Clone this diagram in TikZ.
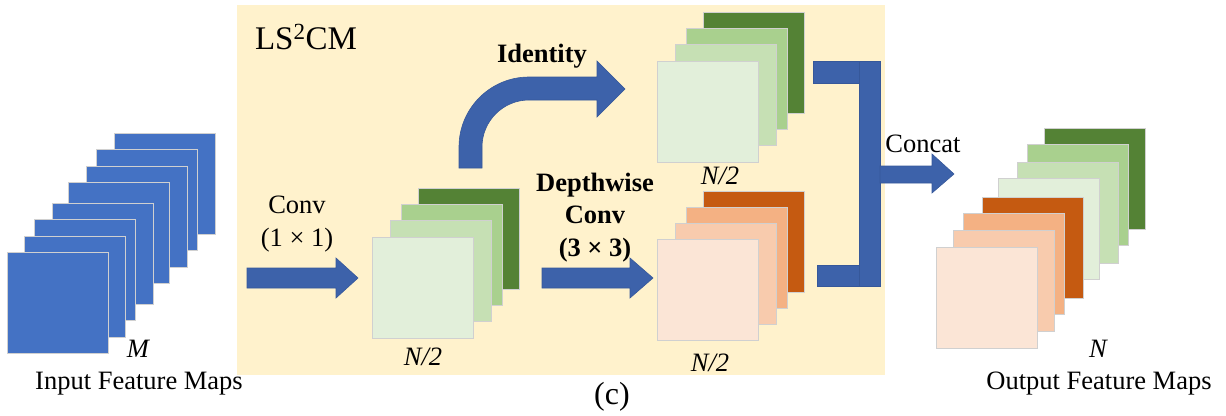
\documentclass[tikz,border=0pt]{standalone}
\usepackage{fontspec}
\setmainfont{Liberation Serif}
\definecolor{bgY}{HTML}{FFF2CC}
\definecolor{mapBlue}{HTML}{4472C4}
\definecolor{arrBlue}{HTML}{3D62AA}
\definecolor{arrEdge}{HTML}{36589A}
\definecolor{gA}{HTML}{E2EFDA}
\definecolor{gB}{HTML}{C6E0B4}
\definecolor{gC}{HTML}{A9D08E}
\definecolor{gD}{HTML}{548235}
\definecolor{oA}{HTML}{FBE5D6}
\definecolor{oB}{HTML}{F8CBAD}
\definecolor{oC}{HTML}{F4B183}
\definecolor{oD}{HTML}{C55A11}
\definecolor{mapEdge}{HTML}{D0D0D0}
\tikzset{
  fmap/.style={draw=mapEdge, line width=1pt, minimum width=101pt, minimum height=101pt, inner sep=0pt, anchor=north west},
  txt/.style={font=\fontsize{26.5}{31}\selectfont, inner sep=0pt, anchor=base},
  btxt/.style={txt, font=\fontsize{26.5}{31}\selectfont\bfseries},
  itxt/.style={txt, font=\fontsize{26.5}{31}\selectfont\itshape},
  barrow/.style={fill=arrBlue, draw=arrEdge, line width=0.6pt},
}
\begin{document}
\begin{tikzpicture}[x=1pt,y=-1pt]
\useasboundingbox (0,0) rectangle (1226,415);
% background module
\fill[bgY] (237,5) rectangle (885,375);
\node[txt, font=\fontsize{33}{38}\selectfont] (title) at (306,49) {LS\textsuperscript{2}CM};

% input feature maps
\node[fmap, fill=mapBlue] (in8) at (114,133) {};
\node[fmap, fill=mapBlue] (in7) at (96,149) {};
\node[fmap, fill=mapBlue] (in6) at (86,166) {};
\node[fmap, fill=mapBlue] (in5) at (68,182) {};
\node[fmap, fill=mapBlue] (in4) at (52,203) {};
\node[fmap, fill=mapBlue] (in3) at (34,219) {};
\node[fmap, fill=mapBlue] (in2) at (24,236) {};
\node[fmap, fill=mapBlue] (in1) at (7,252) {};
\node[itxt] (M) at (138,357) {M};
\node[txt] (inlbl) at (139,389) {Input Feature Maps};

% conv 1x1 arrow
\path[barrow] (247,268) -- (336,268) -- (336,258) -- (358,278) -- (336,298) -- (336,288) -- (247,288) -- cycle;
\node[txt] (conv1) at (297,213) {Conv};
\node[txt] (conv1b) at (297,246) {(1 × 1)};

% middle stack
\node[fmap, fill=gD] (m4) at (418,188) {};
\node[fmap, fill=gC] (m3) at (401,204) {};
\node[fmap, fill=gB] (m2) at (390,220) {};
\node[fmap, fill=gA] (m1) at (372,237) {};
\node[itxt] (mN) at (423,365) {N/2};

% identity curved arrow
\path[barrow] (459,168) -- (459,147) arc[start angle=180, end angle=270, radius=70]
  -- (597,77) -- (597,61) -- (625,89) -- (597,117) -- (597,100) -- (529,100)
  arc[start angle=270, end angle=180, radius=47] -- (482,168) -- cycle;
\node[btxt] (ident) at (542,62) {Identity};

% depthwise arrow
\path[barrow] (542,268) -- (630,268) -- (630,258) -- (653,278) -- (630,298) -- (630,288) -- (542,288) -- cycle;
\node[btxt] (dw1) at (595,191) {Depthwise};
\node[btxt] (dw2) at (595,223) {Conv};
\node[btxt] (dw3) at (595,256) {(3 × 3)};

% top stack
\node[fmap, fill=gD] (t4) at (703,12) {};
\node[fmap, fill=gC] (t3) at (686,28) {};
\node[fmap, fill=gB] (t2) at (675,44) {};
\node[fmap, fill=gA] (t1) at (657,61) {};
\node[itxt] (tN) at (720,184) {N/2};

% orange stack
\node[fmap, fill=oD] (o4) at (703,191) {};
\node[fmap, fill=oC] (o3) at (686,207) {};
\node[fmap, fill=oB] (o2) at (675,223) {};
\node[fmap, fill=oA] (o1) at (657,239) {};
\node[itxt] (oN) at (710,371) {N/2};

% concat bracket
\path[barrow] (813,61) rectangle (880,83);
\path[barrow] (817,265) rectangle (880,286);
\path[barrow] (859,61) rectangle (880,286);
\path[barrow] (880,166) -- (932,166) -- (932,154) -- (954,174) -- (932,193) -- (932,183) -- (880,183) -- cycle;
\node[txt] (concat) at (923,152) {Concat};

% output feature maps
\node[fmap, fill=gD] (out8) at (1044,128) {};
\node[fmap, fill=gC] (out7) at (1027,144) {};
\node[fmap, fill=gB] (out6) at (1017,162) {};
\node[fmap, fill=gA] (out5) at (998,178) {};
\node[fmap, fill=oD] (out4) at (982,197) {};
\node[fmap, fill=oC] (out3) at (963,213) {};
\node[fmap, fill=oB] (out2) at (953,230) {};
\node[fmap, fill=oA] (out1) at (936,247) {};
\node[itxt] (N) at (1098,357) {N};
\node[txt] (outlbl) at (1099,389) {Output Feature Maps};

\node[txt, font=\fontsize{32}{36}\selectfont] (cap) at (612,404) {(c)};
\end{tikzpicture}
\end{document}
